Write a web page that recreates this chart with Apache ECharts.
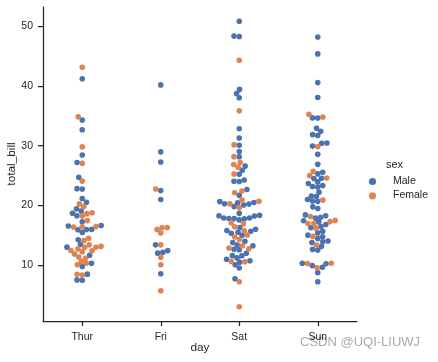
<!DOCTYPE html>
<html><head><meta charset="utf-8">
<script src="https://cdn.jsdelivr.net/npm/echarts@6/dist/echarts.min.js"></script>
<style>html,body{margin:0;padding:0;background:#fff}#c{width:438px;height:362px}</style>
</head><body><div id="c"></div>
<script>
// ---- data (tips dataset, total_bill by day, in dataset order) ----
const days = ['Thur', 'Fri', 'Sat', 'Sun'];
const yTicks = [10, 20, 30, 40, 50];
const sexes = ['Male', 'Female'];

const thurBill = [27.2,22.76,17.29,19.44,16.66,10.07,32.68,15.98,34.83,13.03,18.28,24.71,21.16,
  10.65,12.43,24.08,11.69,13.42,14.26,15.95,12.48,29.8,8.52,14.52,11.38,22.82,19.08,20.27,11.17,12.26,18.26,8.51,10.33,14.15,16.0,13.16,17.47,34.3,41.19,27.05,16.43,8.35,18.64,11.87,9.78,7.51,
  19.81,28.44,15.48,16.58,7.56,10.34,43.11,13.0,13.51,18.71,12.74,13.0,16.4,20.53,16.47,18.78];
const thurSex = ['M','M','M','M','M','F','M','M','F','M','M','M','M',
  'F','F','F','M','F','M','M','F','F','M','F','F','M','M','F','F','F','F','F','F','F','M','F','F','M','M','F','F','F','F','F','M','M',
  'F','M','M','M','M','M','F','F','M','M','F','F','F','M','F','F'];

const friBill = [28.97,22.49,5.75,16.32,22.75,40.17,27.28,12.03,21.01,12.46,11.35,15.38,12.16,13.42,8.58,15.98,13.42,16.27,10.09];
const friSex  = ['M','M','F','F','F','M','M','M','M','M','F','F','M','F','M','F','M','F','F'];

const satBill = [20.65,17.92,20.29,15.77,39.42,19.82,17.81,13.37,12.69,21.7,19.65,9.55,18.35,15.06,20.69,17.78,24.06,16.31,16.93,18.69,31.27,16.04,
  38.01,26.41,11.24,48.27,20.29,13.81,11.02,18.29,17.59,20.08,16.45,3.07,20.23,15.01,12.02,17.07,26.86,25.28,14.73,10.51,17.92,
  44.3,22.42,20.92,15.36,20.49,25.21,18.24,14.31,14.0,7.25,
  10.59,10.63,50.81,15.81,
  26.59,38.73,24.27,12.76,30.06,25.89,48.33,13.27,28.17,12.9,28.15,11.59,7.74,30.14,
  20.45,13.28,22.12,24.01,15.69,11.61,10.77,15.53,10.07,12.6,32.83,35.83,29.03,27.18,22.67,17.82];
const satSex = ['M','M','F','F','M','M','M','M','M','M','F','M','M','F','F','M','M','M','F','M','M','M',
  'M','F','M','M','M','M','M','M','M','M','F','F','M','M','M','F','F','F','F','M','M',
  'F','F','F','M','M','M','M','F','M','F',
  'F','F','M','M',
  'M','M','M','F','M','M','M','F','F','F','M','M','M','F',
  'M','M','F','M','M','M','M','M','M','M','M','F','M','F','M','M'];

const sunBill = [16.99,10.34,21.01,23.68,24.59,25.29,8.77,26.88,15.04,14.78,10.27,35.26,15.42,18.43,14.83,21.58,10.33,16.29,16.97,
  17.46,13.94,9.68,30.4,18.29,22.23,32.4,28.55,18.04,12.54,10.29,34.81,9.94,25.56,19.49,
  38.07,23.95,25.71,17.31,29.93,
  14.07,13.13,17.26,24.55,19.77,29.85,48.17,25.0,13.39,16.49,21.5,12.66,16.21,13.81,17.51,24.52,20.76,31.71,
  7.25,31.85,16.82,32.9,17.89,14.48,9.6,34.63,34.65,23.33,45.35,23.17,40.55,20.69,20.9,30.46,18.15,23.1,15.69];
const sunSex = ['F','M','M','M','F','M','M','M','M','M','M','F','M','M','F','M','F','M','F',
  'M','M','M','M','M','M','M','M','M','M','F','F','M','M','M',
  'M','M','F','F','M',
  'M','M','M','M','M','F','M','F','F','M','M','M','F','M','F','M','M','M',
  'M','M','M','M','M','M','F','M','M','M','M','M','M','M','F','M','F','M','M'];

const dayBills = [thurBill, friBill, satBill, sunBill];
const daySexes = [thurSex, friSex, satSex, sunSex];

// ---- style ----
const ink = '#262626';
const font = '"Liberation Sans", Arial, Helvetica, sans-serif';
const colors = { M: '#4C72B0', F: '#DD8452' };

const allVals = [].concat(...dayBills);
const dMin = Math.min(...allVals), dMax = Math.max(...allVals);
const pad = (dMax - dMin) * 0.05;

const chart = echarts.init(document.getElementById('c'), null, { renderer: 'canvas' });

const base = {
  animation: false,
  backgroundColor: '#ffffff',
  grid: { left: 43, right: 81, top: 7, bottom: 41, containLabel: false, outerBoundsMode: 'none' },
  xAxis: {
    type: 'value', min: -0.5, max: 3.5,
    axisLine: { show: true, onZero: false, lineStyle: { color: ink, width: 1.25 } },
    axisTick: { show: true, customValues: [0, 1, 2, 3], length: 5, lineStyle: { color: ink, width: 1.25 } },
    axisLabel: { customValues: [0, 1, 2, 3], formatter: v => days[Math.round(v)], color: ink, fontSize: 10.5, fontFamily: font, margin: 10.5 },
    splitLine: { show: false },
    name: 'day', nameLocation: 'middle', nameGap: 21, nameMoveOverlap: false,
    nameTextStyle: { color: ink, fontSize: 11.8, fontFamily: font }
  },
  yAxis: {
    type: 'value', min: dMin - pad, max: dMax + pad,
    axisLine: { show: true, onZero: false, lineStyle: { color: ink, width: 1.25 } },
    axisTick: { show: true, customValues: yTicks, length: 5, lineStyle: { color: ink, width: 1.25 } },
    axisLabel: { customValues: yTicks, color: ink, fontSize: 10.5, fontFamily: font, margin: 10 },
    splitLine: { show: false },
    name: 'total_bill', nameLocation: 'middle', nameGap: 25, nameRotate: 90, nameMoveOverlap: false,
    nameTextStyle: { color: ink, fontSize: 11.8, fontFamily: font }
  },
  series: [
    { name: 'Male', type: 'scatter', data: [] },
    { name: 'Female', type: 'scatter', data: [] }
  ]
};
chart.setOption(base);

// ---- swarm layout (seaborn beeswarm), computed in pixel space ----
const p0 = chart.convertToPixel({ gridIndex: 0 }, [0, 0]);
const p1 = chart.convertToPixel({ gridIndex: 0 }, [1, 10]);
const pxPerCat = p1[0] - p0[0];
const pxPerUnit = Math.abs(p0[1] - p1[1]) / 10;
const D = 5.0;

function beeswarm(xy, d) {
  const mid = xy[0][0];
  const swarm = [xy[0]];
  for (let i = 1; i < xy.length; i++) {
    const xi = xy[i][0], yi = xy[i][1];
    const nb = [];
    for (let j = swarm.length - 1; j >= 0; j--) {
      if (yi - swarm[j][1] < d) nb.push(swarm[j]); else break;
    }
    nb.reverse();
    const cands = [[xi, yi]];
    let leftFirst = true;
    for (const n of nb) {
      const dy = yi - n[1];
      const dx = Math.sqrt(Math.max(d * d - dy * dy, 0)) * 1.05;
      const cl = [n[0] - dx, yi], cr = [n[0] + dx, yi];
      if (leftFirst) cands.push(cl, cr); else cands.push(cr, cl);
      leftFirst = !leftFirst;
    }
    let chosen = cands[0];
    if (nb.length) {
      const order = cands.map((c, k) => [Math.abs(c[0] - mid), k]).sort((a, b) => a[0] - b[0] || a[1] - b[1]);
      for (const o of order) {
        const c = cands[o[1]];
        let ok = true;
        for (const n of nb) {
          const ddx = n[0] - c[0], ddy = n[1] - c[1];
          if (ddx * ddx + ddy * ddy < d * d - 1e-9) { ok = false; break; }
        }
        if (ok) { chosen = c; break; }
      }
    }
    swarm.push(chosen);
  }
  return swarm;
}

const male = [], female = [];
dayBills.forEach((bills, di) => {
  const sx = daySexes[di];
  const idx = bills.map((v, k) => k).sort((a, b) => bills[a] - bills[b]);
  const xy = idx.map(k => [0, bills[k] * pxPerUnit]);
  const sw = beeswarm(xy, D);
  sw.forEach((p, r) => {
    const k = idx[r];
    const pt = [di + p[0] / pxPerCat, bills[k]];
    (sx[k] === 'M' ? male : female).push(pt);
  });
});

const ptStyle = { opacity: 1, borderWidth: 0 };
chart.setOption({
  series: [
    { name: 'Male', type: 'scatter', data: male, symbol: 'circle', symbolSize: 5.6, itemStyle: Object.assign({ color: colors.M }, ptStyle), silent: true },
    { name: 'Female', type: 'scatter', data: female, symbol: 'circle', symbolSize: 5.6, itemStyle: Object.assign({ color: colors.F }, ptStyle), silent: true }
  ],
  graphic: [
    { type: 'text', left: 386, top: 159, style: { text: 'sex', fill: ink, fontSize: 11, fontFamily: font } },
    { type: 'circle', shape: { cx: 372.5, cy: 181.5, r: 3.6 }, style: { fill: colors.M } },
    { type: 'text', left: 393, top: 176, style: { text: sexes[0], fill: ink, fontSize: 10.5, fontFamily: font } },
    { type: 'circle', shape: { cx: 372.5, cy: 195.8, r: 3.6 }, style: { fill: colors.F } },
    { type: 'text', left: 393, top: 190, style: { text: sexes[1], fill: ink, fontSize: 10.5, fontFamily: font } },
    { type: 'text', left: 300, top: 336, style: { text: 'CSDN @UQI-LIUWJ', fill: '#a9a9a9', fontSize: 13, fontFamily: font } }
  ]
});
</script>
</body></html>
